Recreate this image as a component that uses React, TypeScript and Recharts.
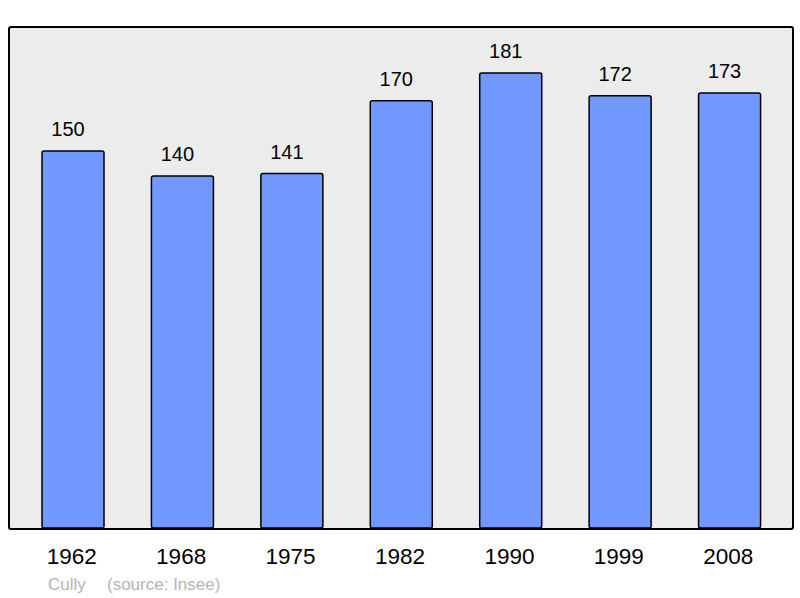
import type { FC } from 'react';
import { Bar, BarChart, LabelList, XAxis, YAxis } from 'recharts';

const years = ['1962', '1968', '1975', '1982', '1990', '1999', '2008'];
const population = [150, 140, 141, 170, 181, 172, 173];

const chartData = years.map((year, i) => ({ year, population: population[i] }));

const font = '"Liberation Sans", Arial, sans-serif';
const footStyle = { position: 'absolute', top: 575, fontSize: 17, color: '#b4b4b4' } as const;

const App: FC = () => {
  return (
    <div style={{ position: 'relative', width: 800, height: 598, fontFamily: font }}>
      <style>{'body{margin:0}'}</style>
      <div
        style={{
          position: 'absolute',
          left: 8,
          top: 26,
          width: 782,
          height: 500,
          background: '#ececec',
          border: '2px solid #000',
          borderRadius: 3,
        }}
      />
      <BarChart
        width={800}
        height={598}
        data={chartData}
        margin={{ top: 27, right: 16, left: 18, bottom: 0 }}
        style={{ position: 'absolute', left: 0, top: 0 }}
      >
        <XAxis
          dataKey="year"
          height={70}
          axisLine={false}
          tickLine={false}
          tickSize={0}
          tickMargin={20}
          tick={{ fill: '#000', fontSize: 22.5, fontFamily: font, dx: -1 }}
        />
        <YAxis hide domain={[0, 199.3]} />
        <Bar
          dataKey="population"
          fill="#7098ff"
          stroke="#000"
          strokeWidth={1.5}
          barSize={62}
          radius={2}
          isAnimationActive={false}
        >
          <LabelList
            dataKey="population"
            position="top"
            offset={15}
            dx={-5}
            style={{ fill: '#000', fontSize: 20, fontFamily: font }}
          />
        </Bar>
      </BarChart>
      <div style={{ ...footStyle, left: 48 }}>Cully</div>
      <div style={{ ...footStyle, left: 107 }}>(source: Insee)</div>
    </div>
  );
};

export default App;
